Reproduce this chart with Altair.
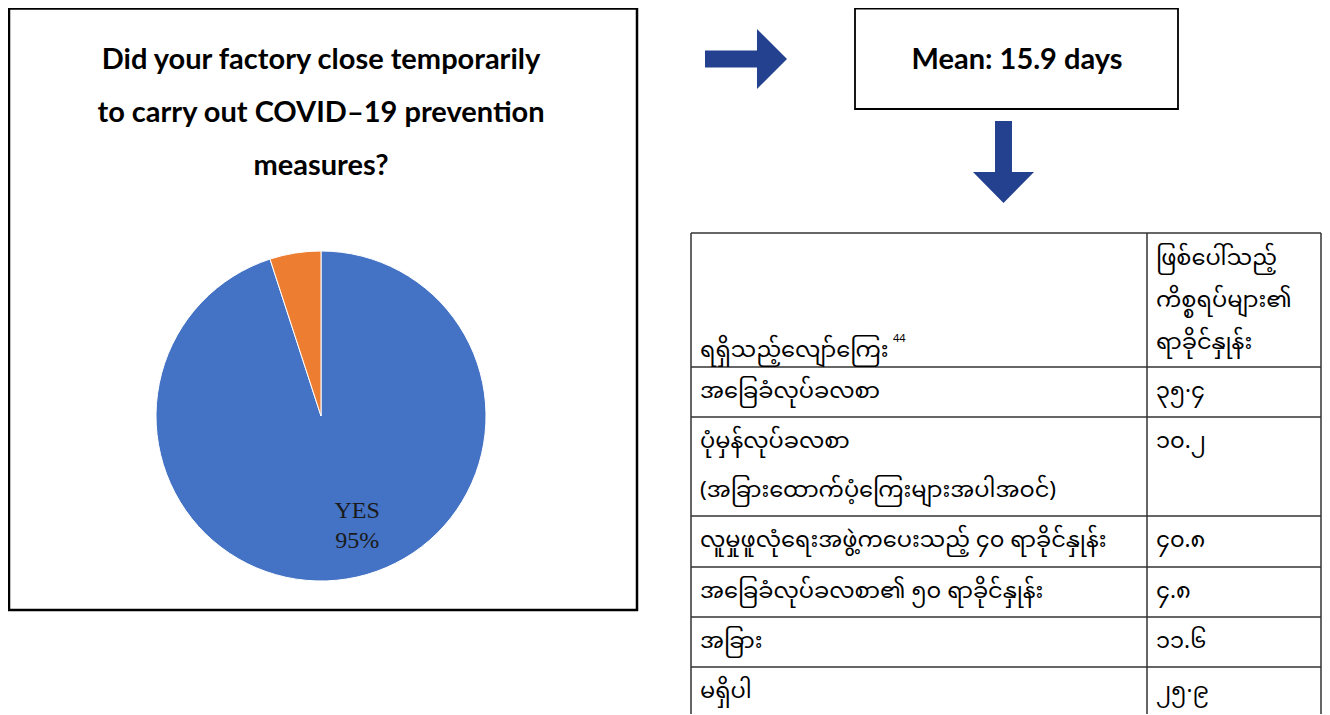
import altair as alt
import pandas as pd

# ---------------- data ----------------
pie_categories = ["YES", "NO"]
pie_values = [95, 5]
pie_colors = ["#4472C4", "#ED7D31"]

title_lines = [
    "Did your factory close temporarily",
    "to carry out COVID\u201319 prevention",
    "measures?",
]
mean_text = "Mean: 15.9 days"

table_header = ["ရရှိသည့်လျော်ကြေး", "ဖြစ်ပေါ်သည့်\nကိစ္စရပ်များ၏\nရာခိုင်နှုန်း"]
header_note = "44"
table_items = [
    "အခြေခံလုပ်ခလစာ",
    "ပုံမှန်လုပ်ခလစာ\n(အခြားထောက်ပံ့ကြေးများအပါအဝင်)",
    "လူမှုဖူလုံရေးအဖွဲ့ကပေးသည့် ၄၀ ရာခိုင်နှုန်း",
    "အခြေခံလုပ်ခလစာ၏ ၅၀ ရာခိုင်နှုန်း",
    "အခြား",
    "မရှိပါ",
]
table_values = ["၃၅·၄", "၁၀.၂", "၄၀.၈", "၄.၈", "၁၁.၆", "၂၅·၉"]

# ---------------- layout (page pixels) ----------------
W, H = 1314, 706
M = 8
xs = alt.Scale(domain=[M, M + W], range=[0, W])
ys = alt.Scale(domain=[M, M + H], range=[0, H])
BLUE = "#23418F"
MY_FONT = "Noto Sans Myanmar, Padauk, Myanmar Text, Noto Sans, sans-serif"

row_edges = [233, 367, 417, 516, 567, 617, 667, 730]
col_edges = [691, 1147, 1321]
text_x = [700, 1156]


def X(f="x"):
    return alt.X(f"{f}:Q", scale=xs, axis=None)


def Y(f="y"):
    return alt.Y(f"{f}:Q", scale=ys, axis=None)


# boxes
left_box = pd.DataFrame({"x": [9], "x2": [637], "y": [8.5], "y2": [610]})
mean_box = pd.DataFrame({"x": [855], "x2": [1178], "y": [8.5], "y2": [109]})

box1 = alt.Chart(left_box).mark_rect(fillOpacity=0, stroke="black", strokeWidth=2.5).encode(
    x=X(), x2="x2:Q", y=Y(), y2="y2:Q")
box2 = alt.Chart(mean_box).mark_rect(fillOpacity=0, stroke="black", strokeWidth=1.8).encode(
    x=X(), x2="x2:Q", y=Y(), y2="y2:Q")

# arrows
right_arrow = "M-1,-0.207L0.268,-0.207L0.268,-0.732L1,0L0.268,0.732L0.268,0.207L-1,0.207Z"
down_arrow = "M-0.207,-1L0.207,-1L0.207,0.244L0.744,0.244L0,1L-0.744,0.244L-0.207,0.244Z"
arr1 = alt.Chart(pd.DataFrame({"x": [746], "y": [59]})).mark_point(
    shape=right_arrow, size=82 * 82, filled=True, color=BLUE, opacity=1, strokeWidth=0
).encode(x=X(), y=Y())
arr2 = alt.Chart(pd.DataFrame({"x": [1003.5], "y": [162]})).mark_point(
    shape=down_arrow, size=82 * 82, filled=True, color=BLUE, opacity=1, strokeWidth=0
).encode(x=X(), y=Y())

# title + mean text
title_df = pd.DataFrame({"x": [321] * len(title_lines), "y": [60, 113, 166], "text": title_lines})
title = alt.Chart(title_df).mark_text(
    font="Lato", fontSize=29, fontWeight="bold", color="black", align="center", baseline="middle"
).encode(x=X(), y=Y(), text="text:N")
mean = alt.Chart(pd.DataFrame({"x": [1017], "y": [60], "text": [mean_text]})).mark_text(
    font="Lato", fontSize=29, fontWeight="bold", color="black", align="center", baseline="middle"
).encode(x=X(), y=Y(), text="text:N")

# pie
pie_df = pd.DataFrame({
    "cat": pie_categories,
    "value": pie_values,
    "ord": list(range(len(pie_categories))),
    "label": [f"{c}\n{v}%" if c == "YES" else "" for c, v in zip(pie_categories, pie_values)],
})
CX, CY = 321 - M, 416 - M
pie_base = alt.Chart(pie_df).encode(
    theta=alt.Theta("value:Q", stack=True),
    order=alt.Order("ord:Q"),
    x=alt.value(CX),
    y=alt.value(CY),
)
arcs = pie_base.mark_arc(radius=165, stroke="white", strokeWidth=1).encode(
    color=alt.Color("cat:N", scale=alt.Scale(domain=pie_categories, range=pie_colors), legend=None)
)
labels = pie_base.mark_text(
    radius=110, font="Liberation Serif", fontSize=24, lineBreak="\n", lineHeight=30,
    color="#1a1a1a", align="center", baseline="middle", dx=19, dy=-14
).encode(text="label:N")

# table lines
hl = pd.DataFrame({"y": row_edges[:-1], "x": [col_edges[0]] * 7, "x2": [col_edges[-1]] * 7})
vl = pd.DataFrame({"x": col_edges, "y": [row_edges[0]] * 3, "y2": [row_edges[-1]] * 3})
hlines = alt.Chart(hl).mark_rule(color="#333333", strokeWidth=1.5).encode(x=X(), x2="x2:Q", y=Y())
vlines = alt.Chart(vl).mark_rule(color="#333333", strokeWidth=1.5).encode(x=X(), y=Y(), y2="y2:Q")

# table text
rows = []
hdr_bottom = row_edges[1]
for ci, cell in enumerate(table_header):
    parts = cell.split("\n")
    n = len(parts)
    for i, p in enumerate(parts):
        if n == 1:
            yy = hdr_bottom - 17
        else:
            yy = hdr_bottom - 25 - (n - 1 - i) * 42
        rows.append({"x": text_x[ci], "y": yy, "text": p})
for ri, (item, val) in enumerate(zip(table_items, table_values)):
    top = row_edges[ri + 1]
    for ci, cell in enumerate([item, val]):
        for i, p in enumerate(cell.split("\n")):
            rows.append({"x": text_x[ci], "y": top + 24 + i * 49, "text": p})
tt = pd.DataFrame(rows)
table_text = alt.Chart(tt).mark_text(
    font=MY_FONT, fontSize=22.5, color="black", align="left", baseline="middle"
).encode(x=X(), y=Y(), text="text:N")

note = alt.Chart(pd.DataFrame({"x": [893], "y": [339], "text": [header_note]})).mark_text(
    font="Noto Sans", fontSize=11, color="black", align="left", baseline="middle"
).encode(x=X(), y=Y(), text="text:N")

chart = alt.layer(
    box1, box2, arr1, arr2, title, mean, arcs, labels, hlines, vlines, table_text, note
).properties(
    width=W, height=H, padding=0, autosize=alt.AutoSizeParams(type="none")
).configure_view(stroke=None)

chart.save("out.html", embed_options={"renderer": "svg", "actions": False})
